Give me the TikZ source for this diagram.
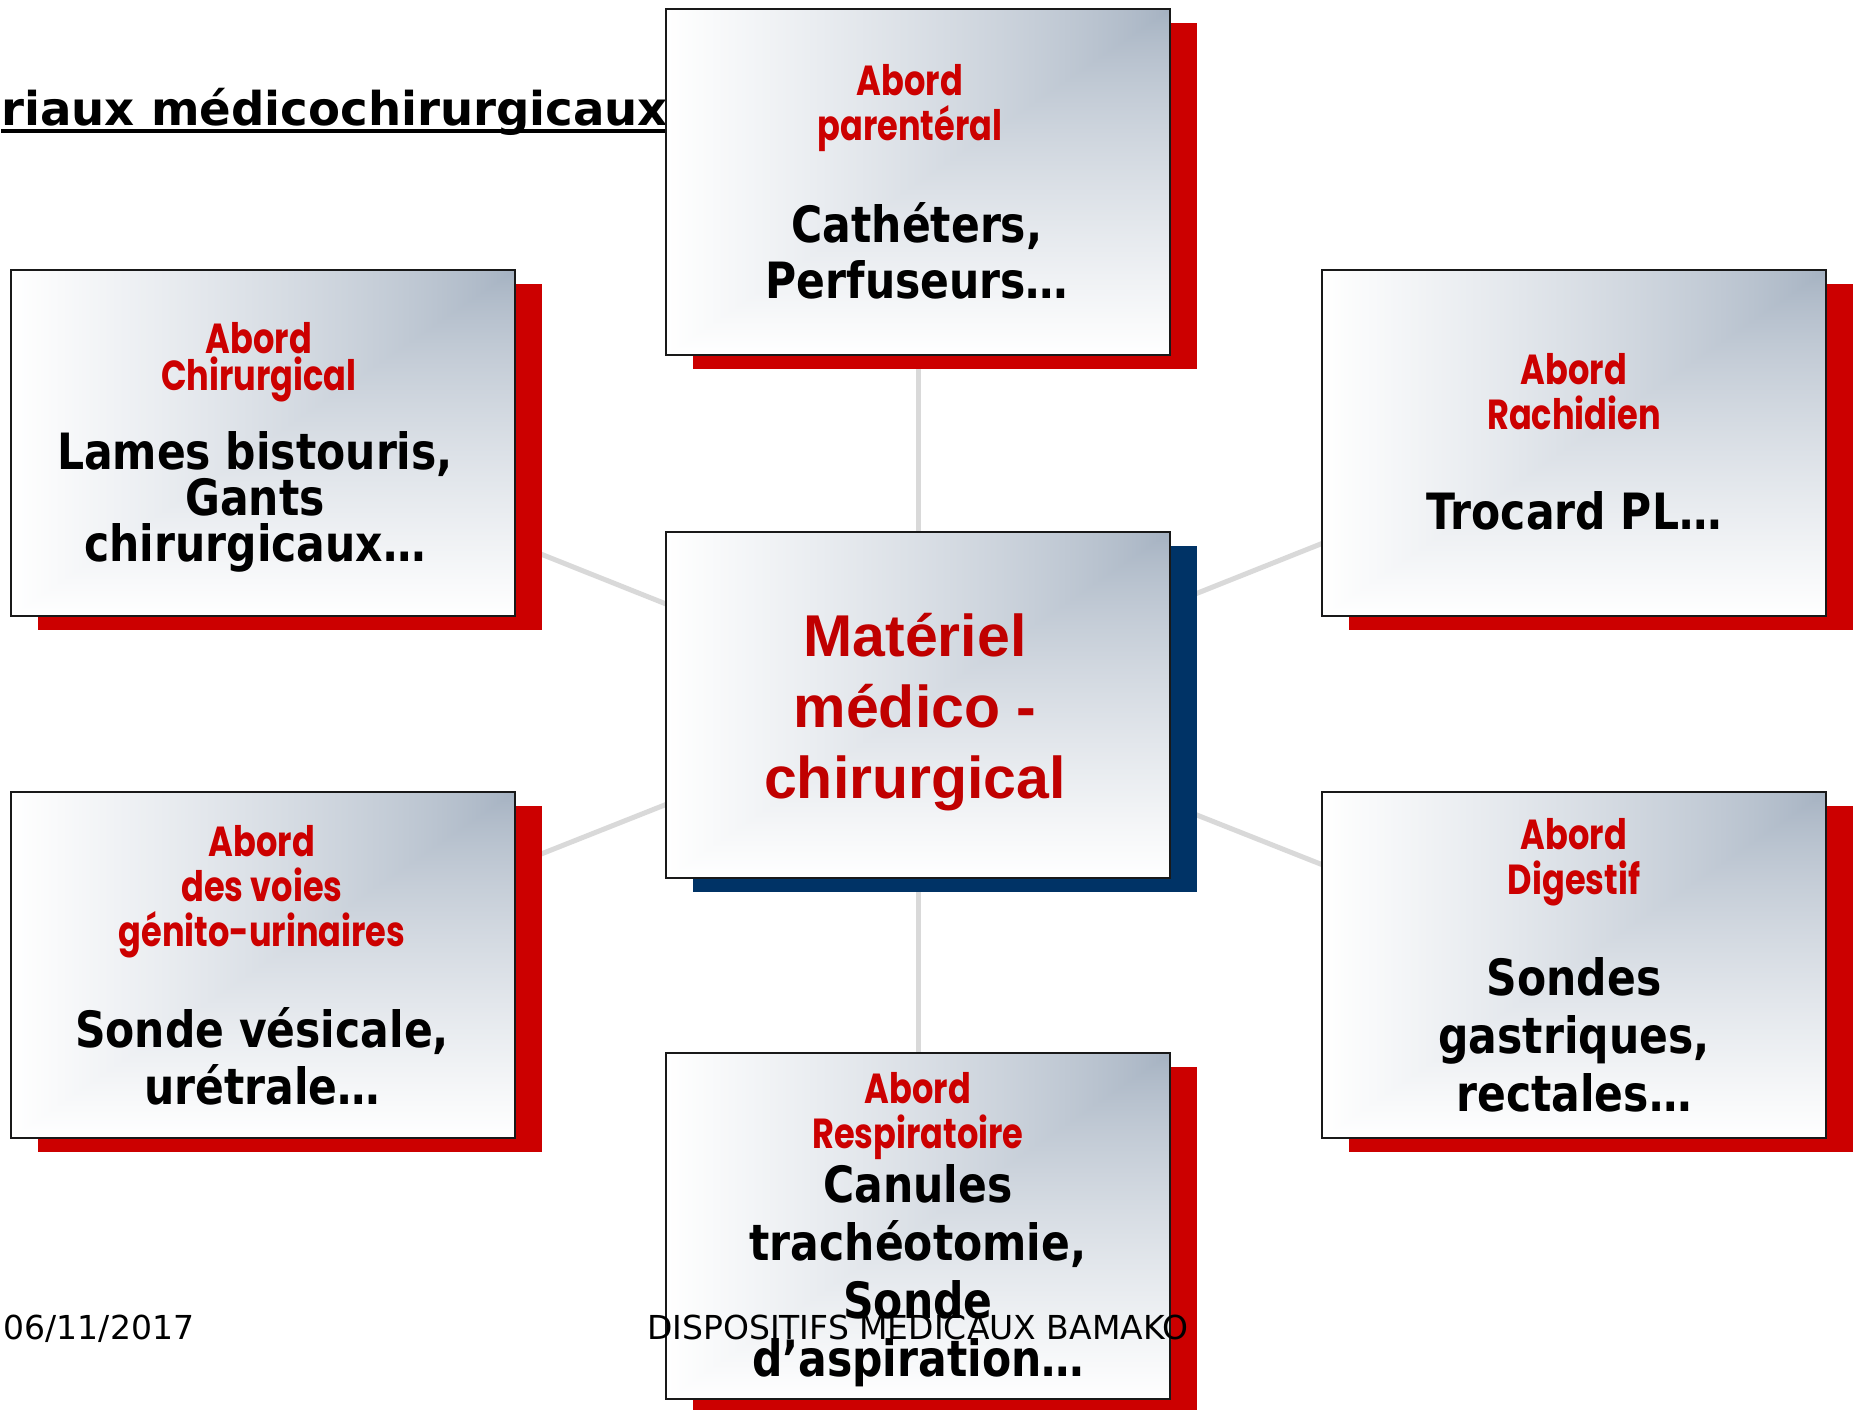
\documentclass[tikz,border=0pt]{standalone}
\usepackage{fontspec}
\setmainfont{DejaVu Sans}
\newfontfamily\arialfont{Liberation Sans}
\newfontfamily\comicfont{Poppins}[FakeStretch=0.8]
\newfontfamily\tahomafont{DejaVu Sans}[FakeStretch=0.85]
\usetikzlibrary{shadows}
\pgfdeclarelayer{background}
\pgfsetlayers{background,main}
\pgfdeclarefunctionalshading{panelshade}{\pgfpoint{0bp}{0bp}}{\pgfpoint{100bp}{100bp}}{}{
  75 exch sub exch 75 exch sub
  2 copy lt {exch} if pop
  50 div
  dup 0 lt {pop 0} if
  dup 1 gt {pop 1} if
  0.75 exp
  dup 92 mul 163 add 255 div
  exch dup 79 mul 176 add 255 div
  exch 63 mul 192 add 255 div
}
\definecolor{shred}{RGB}{204,0,0}
\definecolor{shnavy}{RGB}{0,51,102}
\definecolor{lblred}{RGB}{204,0,0}
\definecolor{ctrred}{RGB}{192,0,0}
\definecolor{linkgrey}{RGB}{217,217,217}
\begin{document}
\begin{tikzpicture}[x=0.5pt,y=-0.5pt,
  panel/.style={rectangle, minimum width=252pt, minimum height=173pt, inner sep=0pt,
    draw=black!90, line width=1pt, shade, shading=panelshade},
  redshadow/.style={general shadow={fill=shred, draw=none, shadow xshift=13.5pt, shadow yshift=-7pt}},
  navyshadow/.style={general shadow={fill=shnavy, draw=none, shadow xshift=13.5pt, shadow yshift=-7pt}},
  lbl/.style={text=lblred, align=center, inner sep=0pt},
  blk/.style={text=black, align=center, inner sep=0pt},
  link/.style={draw=linkgrey, line width=2.5pt},
]
\useasboundingbox (0,0) rectangle (1863,1409);

% title
\node[anchor=base west, inner sep=0pt, font=\fontsize{23.3}{27}\selectfont\bfseries] (title) at (1,125) {riaux médicochirurgicaux};
\draw[line width=1.75pt] ([yshift=-3pt]title.base west) -- ([yshift=-3pt]title.base east);

% panels
\node[panel, redshadow] (T) at (918,182) {};
\node[panel, redshadow] (LT) at (262.5,443) {};
\node[panel, redshadow] (RT) at (1574,443) {};
\node[panel, navyshadow] (C) at (918,704.5) {};
\node[panel, redshadow] (LB) at (262.5,964.5) {};
\node[panel, redshadow] (RB) at (1574,964.5) {};
\node[panel, redshadow] (B) at (918,1226) {};

% connectors
\begin{pgfonlayer}{background}
\draw[link] (C.center) -- (T.center);
\draw[link] (C.center) -- (B.center);
\draw[link] (C.center) -- (LT.center);
\draw[link] (C.center) -- (LB.center);
\draw[link] (C.center) -- (RT.center);
\draw[link] (C.center) -- (RB.center);
\end{pgfonlayer}

% texts
\node[lbl, font=\comicfont\fontsize{21}{22.5}\selectfont\bfseries] (Tl) at (910,108) {Abord\\parentéral};
\node[blk, font=\tahomafont\fontsize{25}{28}\selectfont\bfseries] (Tb) at (917,251) {Cathéters,\\Perfuseurs…};

\node[lbl, font=\comicfont\fontsize{21}{18.5}\selectfont\bfseries] (LTl) at (259,362) {Abord\\Chirurgical};
\node[blk, font=\tahomafont\fontsize{25}{23}\selectfont\bfseries] (LTb) at (255,502) {Lames bistouris,\\Gants\\chirurgicaux…};

\node[lbl, font=\comicfont\fontsize{21}{22.5}\selectfont\bfseries] (RTl) at (1574,392) {Abord\\Rachidien};
\node[blk, font=\tahomafont\fontsize{25}{28}\selectfont\bfseries] (RTb) at (1574,511) {Trocard PL…};

\node[blk, text=ctrred, font=\arialfont\fontsize{29.5}{35.5}\selectfont\bfseries] (Ct) at (915,712) {Matériel\\médico -\\chirurgical};

\node[lbl, font=\comicfont\fontsize{21}{22.5}\selectfont\bfseries] (LBl) at (262,892) {Abord\\des voies\\génito-urinaires};
\node[blk, font=\tahomafont\fontsize{25}{28.5}\selectfont\bfseries] (LBb) at (262,1056) {Sonde vésicale,\\urétrale…};

\node[lbl, font=\comicfont\fontsize{21}{22.5}\selectfont\bfseries] (RBl) at (1574,862) {Abord\\Digestif};
\node[blk, font=\tahomafont\fontsize{25}{29}\selectfont\bfseries] (RBb) at (1574,1035) {Sondes\\gastriques,\\rectales…};

\node[lbl, font=\comicfont\fontsize{21}{22.5}\selectfont\bfseries] (Bl) at (918,1116) {Abord\\Respiratoire};
\node[blk, font=\tahomafont\fontsize{25}{29}\selectfont\bfseries] (Bb) at (918,1276) {Canules\\trachéotomie,\\Sonde\\d’aspiration…};

% footer
\node[anchor=base west, inner sep=0pt, font=\fontsize{16.5}{20}\selectfont] (date) at (3.5,1339) {06/11/2017};
\node[anchor=base, inner sep=0pt, font=\fontsize{16.5}{20}\selectfont] (foot) at (918,1339) {DISPOSITIFS MEDICAUX BAMAKO};
\end{tikzpicture}
\end{document}
